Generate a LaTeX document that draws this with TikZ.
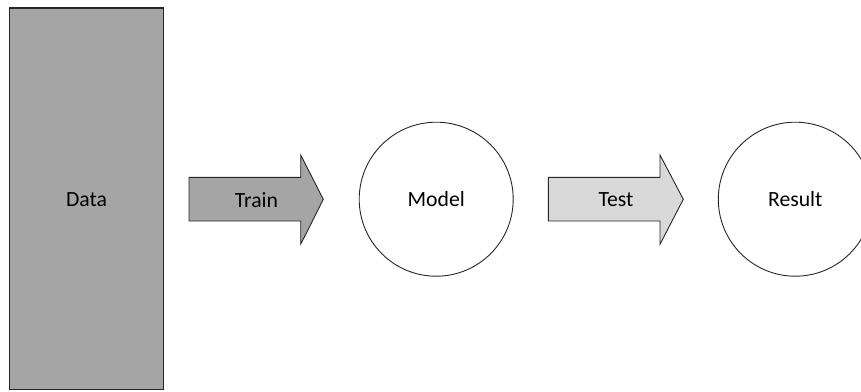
\documentclass[tikz,border=0pt]{standalone}
\usepackage{fontspec}
\setmainfont{Carlito}
\begin{document}
\begin{tikzpicture}[x=1pt,y=-1pt,
  lbl/.style={font=\fontsize{21.7}{24}\selectfont, text=black, inner sep=0pt},
  outline/.style={draw=black!85, line width=0.9pt},
  blockarrow/.style={outline, line join=miter}
]
\definecolor{darkfill}{HTML}{A5A5A5}
\definecolor{lightfill}{HTML}{D9D9D9}
\useasboundingbox (0,0) rectangle (861,391);
\begin{scope}
\clip (0,0) rectangle (861,391);

% data store
\draw[outline, fill=darkfill, line width=1.1pt] (9.5,8) rectangle (163.5,389.5);
\node[lbl] (data) at (86.5,200) {Data};

% training step
\draw[blockarrow, fill=darkfill]
  (189,177.3) -- (300.7,177.3) -- (300.7,155) -- (323.3,199.3)
  -- (300.7,244.3) -- (300.7,221) -- (189,221) -- cycle;
\node[lbl] (train) at (256.5,200) {Train};

% model
\node[outline, circle, minimum size=154pt, inner sep=0pt] (model) at (436.2,199.2) {};
\node[lbl] (modeltxt) at (model.center) {Model};

% testing step
\draw[blockarrow, fill=lightfill]
  (548.3,177.3) -- (660,177.3) -- (660,155) -- (683.3,199.3)
  -- (660,244.3) -- (660,221) -- (548.3,221) -- cycle;
\node[lbl] (test) at (616,200) {Test};

% result
\node[outline, circle, minimum size=154pt, inner sep=0pt] (result) at (795.3,199.2) {};
\node[lbl] (resulttxt) at (result.center) {Result};
\end{scope}
\end{tikzpicture}
\end{document}
